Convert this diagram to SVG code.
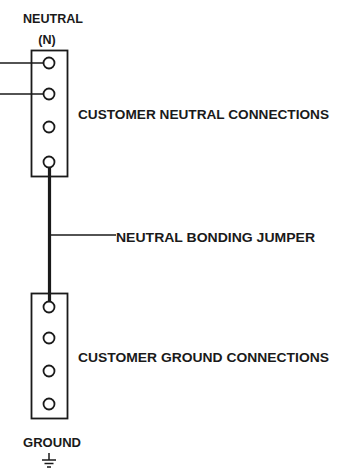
<svg xmlns="http://www.w3.org/2000/svg" width="344" height="476" viewBox="0 0 344 476">
<style>
.box{fill:none;stroke:#1a1a1a;stroke-width:1.8}
.term{fill:#fff;stroke:#1a1a1a;stroke-width:1.8}
.wire{stroke:#1a1a1a;stroke-width:1.5;fill:none}
.jumper{stroke:#1a1a1a;stroke-width:3.2;fill:none}
.lbl{font-family:"Liberation Sans",Arial,sans-serif;font-weight:bold;font-size:13.5px;fill:#1a1a1a}
.sm{font-size:12.5px}
</style>
<rect width="344" height="476" fill="#fff"/>
<g id="connectors">
<line class="wire" x1="0" y1="63" x2="43" y2="63"/>
<line class="wire" x1="0" y1="94" x2="43" y2="94"/>
<line class="jumper" x1="49.5" y1="168" x2="49.5" y2="301"/>
<line class="wire" x1="51" y1="235" x2="116" y2="235"/>
</g>
<g id="neutral-bar">
<text class="lbl sm" x="53" y="23" text-anchor="middle" textLength="60" lengthAdjust="spacingAndGlyphs">NEUTRAL</text>
<text class="lbl sm" x="47" y="44" text-anchor="middle">(N)</text>
<rect class="box" x="31.5" y="50.5" width="36" height="126"/>
<circle class="term" cx="49" cy="63" r="5.5"/>
<circle class="term" cx="49" cy="94" r="5.5"/>
<circle class="term" cx="49" cy="127" r="5.5"/>
<circle class="term" cx="49" cy="162" r="5.5"/>
</g>
<g id="neutral-label">
<text class="lbl" x="78" y="119" textLength="251" lengthAdjust="spacingAndGlyphs">CUSTOMER NEUTRAL CONNECTIONS</text>
</g>
<g id="jumper-label">
<text class="lbl" x="116" y="242" textLength="199" lengthAdjust="spacingAndGlyphs">NEUTRAL BONDING JUMPER</text>
</g>
<g id="ground-bar">
<rect class="box" x="31.5" y="293.5" width="36" height="125"/>
<circle class="term" cx="49" cy="307" r="5.5"/>
<circle class="term" cx="49" cy="338" r="5.5"/>
<circle class="term" cx="49" cy="371" r="5.5"/>
<circle class="term" cx="49" cy="404" r="5.5"/>
<text class="lbl sm" x="52" y="447" text-anchor="middle" textLength="58" lengthAdjust="spacingAndGlyphs">GROUND</text>
</g>
<g id="ground-label">
<text class="lbl" x="78" y="362" textLength="251" lengthAdjust="spacingAndGlyphs">CUSTOMER GROUND CONNECTIONS</text>
</g>
<g id="ground-symbol">
<line class="wire" x1="49" y1="453" x2="49" y2="460"/>
<line class="wire" x1="42" y1="460" x2="56" y2="460"/>
<line class="wire" x1="44.5" y1="463.5" x2="53.5" y2="463.5"/>
<line class="wire" x1="47" y1="467" x2="51" y2="467"/>
</g>
</svg>
